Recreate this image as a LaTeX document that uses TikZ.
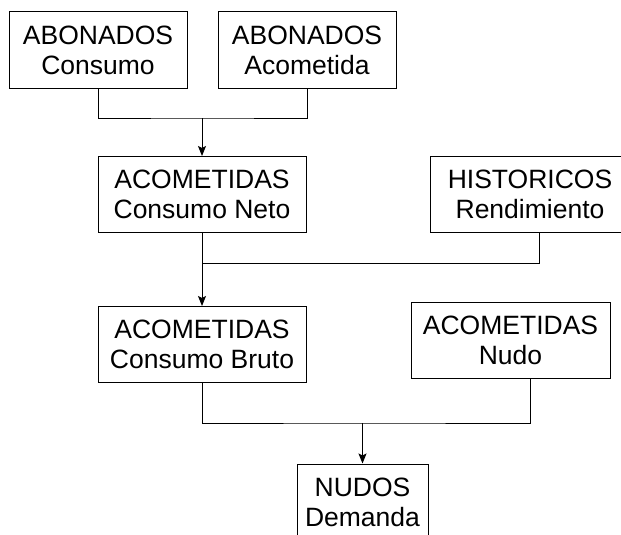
\documentclass[tikz,border=0pt]{standalone}
\usepackage{fontspec}
\setmainfont{Liberation Sans}
\usetikzlibrary{arrows.meta,positioning}

\begin{document}
\begin{tikzpicture}[x=1pt,y=-1pt,node distance=30pt,>={Stealth[length=10pt,width=8pt,inset=2pt]}]
      \tikzset{tabla/.style={rectangle,draw,line width=1pt,align=center,minimum height=76pt,inner sep=2pt,font=\fontsize{26.5}{30}\selectfont}}
      \useasboundingbox (0,0) rectangle (621,535);

      \node[tabla,minimum width=178pt] (abcons) at (98,50) {ABONADOS\\Consumo};
      \node[tabla,minimum width=178pt,right=30pt of abcons] (abacom) {ABONADOS\\Acometida};
      \node[tabla,minimum width=208pt] (acneto) at (202,194.5) {ACOMETIDAS\\Consumo Neto};
      \node[tabla,minimum width=200pt,right=123pt of acneto] (histor) {HISTORICOS\\Rendimiento};
      \node[tabla,minimum width=208pt,below=73pt of acneto] (acbruto) {ACOMETIDAS\\Consumo Bruto};
      \node[tabla,minimum width=199pt,right=104pt of acbruto,yshift=4pt] (acnudo) {ACOMETIDAS\\Nudo};
      \node[tabla,minimum width=131pt] (nudos) at (362.5,502) {NUDOS\\Demanda};

      \coordinate (j1) at (202,118);
      \coordinate (j2) at (202,263);
      \coordinate (j3) at (362.5,423);

      \draw[line width=1pt] (abcons.south) |- (j1) -| (abacom.south);
      \draw[->,line width=1pt] (j1) -- (acneto);
      \draw[line width=1pt] (acneto.south) -- (j2) -| ([xshift=9pt]histor.south);
      \draw[->,line width=1pt] (j2) -- (acbruto);
      \draw[line width=1pt] (acbruto.south) |- (j3) -| ([xshift=20pt]acnudo.south);
      \draw[->,line width=1pt] (j3) -- (nudos);
    \end{tikzpicture}
\end{document}
